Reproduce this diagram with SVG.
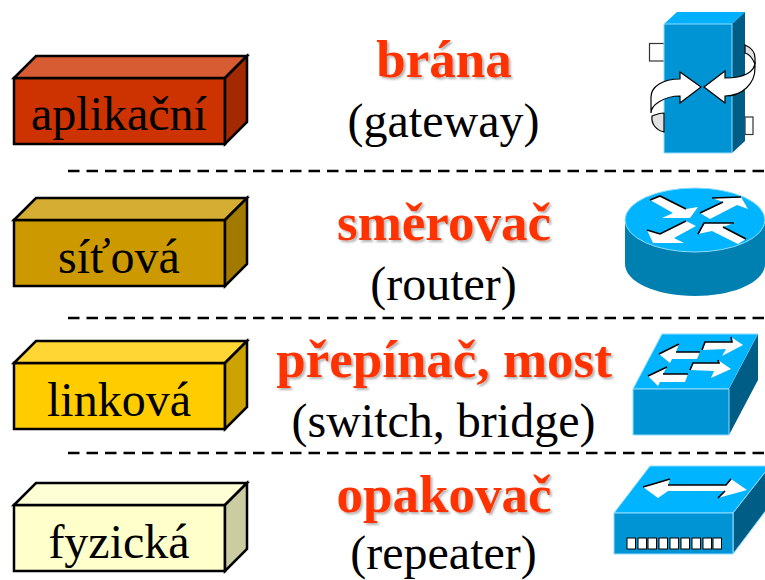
<svg xmlns="http://www.w3.org/2000/svg" width="765" height="580" viewBox="0 0 765 580">
<style>
text{font-family:"Liberation Serif","Times New Roman",serif;text-anchor:middle;fill:#000}
.l{font-size:48px}
.h{font-size:53px;font-weight:bold;fill:#ff3300;filter:url(#sh)}
.e{stroke:#000;stroke-width:2.5;stroke-linejoin:miter}
.d{stroke:#000;stroke-width:2.5;stroke-dasharray:11.500 7;fill:none}
.w{fill:#fff}
.ws{fill:none;stroke:#000;stroke-width:1.6}
.o{stroke:#000;stroke-width:1.200}
</style>
<defs>
<filter id="sh" x="-5%" y="-10%" width="110%" height="125%"><feDropShadow dx="2" dy="2" stdDeviation="1" flood-color="#000" flood-opacity=".3"/></filter>
</defs>
<rect width="765" height="580" fill="#fff"/>
<g id="connectors">
<path class="d" d="M68 171H765M68 318H765M68 453H765"/>
</g>
<g id="layer-aplikacni">
<path class="e" fill="#cc3300" d="M14 78H225V144H14Z"/>
<path class="e" fill="#d75c33" d="M14 78L36 56H247L225 78Z"/>
<path class="e" fill="#a32900" d="M225 78L247 56V122L225 144Z"/>
<text class="l" x="119" y="130">aplikační</text>
</g>
<g id="layer-sitova">
<path class="e" fill="#cc9900" d="M14 220H225V286H14Z"/>
<path class="e" fill="#d6ad33" d="M14 220L36 198H247L225 220Z"/>
<path class="e" fill="#a37a00" d="M225 220L247 198V264L225 286Z"/>
<text class="l" x="119" y="273">síťová</text>
</g>
<g id="layer-linkova">
<path class="e" fill="#ffcc00" d="M14 363H225V429H14Z"/>
<path class="e" fill="#ffd633" d="M14 363L36 341H247L225 363Z"/>
<path class="e" fill="#cca300" d="M225 363L247 341V407L225 429Z"/>
<text class="l" x="119" y="416">linková</text>
</g>
<g id="layer-fyzicka">
<path class="e" fill="#ffffcc" d="M14 505H225V571H14Z"/>
<path class="e" fill="#ffffd6" d="M14 505L36 483H247L225 505Z"/>
<path class="e" fill="#ccccA3" d="M225 505L247 483V549L225 571Z"/>
<text class="l" x="119" y="558">fyzická</text>
</g>
<g id="label-brana">
<text class="h" x="444" y="77">brána</text>
<text class="l" x="443.500" y="137">(gateway)</text>
</g>
<g id="label-smerovac">
<text class="h" x="444" y="240">směrovač</text>
<text class="l" x="443.500" y="300">(router)</text>
</g>
<g id="label-prepinac">
<text class="h" x="444" y="377">přepínač, most</text>
<text class="l" x="443.500" y="437">(switch, bridge)</text>
</g>
<g id="label-opakovac">
<text class="h" x="444" y="512">opakovač</text>
<text class="l" x="443.500" y="569">(repeater)</text>
</g>
<g id="icon-gateway">
<rect x="649.500" y="43.500" width="15" height="17.500" fill="#fff" stroke="#333" stroke-width="1.200"/>
<rect x="745" y="117" width="8" height="17.500" fill="#fff" stroke="#333" stroke-width="1.200"/>
<path fill="#00b0ff" d="M664 24L677 12H745L732 24Z"/>
<path fill="#005d85" d="M732 24L745 12V141L732 153Z"/>
<path fill="#0094d4" stroke="#8fdcff" d="M664 24H732V153H664Z"/>
<path fill="#e2e2e2" class="o" d="M664 113C659 113 655 115 652 116C651 124 656 130 664 132Z"/>
<path fill="#e2e2e2" class="o" d="M745 45C752 48 755 53 755 58V64C752 57 749 54 745 53Z"/>
<path class="w o" d="M701 87L680 72V79C662 79 651 87 651 97V113C651 105 664 96 680 96V103Z"/>
<path class="w o" d="M704 87L725 71V78C744 78 755 72 755 62V68C755 84 742 96 725 96V103Z"/>
</g>
<g id="icon-router">
<path fill="#0080b0" d="M625 220V264C625 282 656 296 695 296S765 282 765 264V220Z"/>
<ellipse cx="695" cy="220" rx="70" ry="32" fill="#00b4ff" stroke="#8fdcff" stroke-width="1"/>
<path class="w" d="M650 200L660 196L686 209L698 207L690 218H662L673 213Z"/>
<path class="ws" d="M650 200L660 196L686 209"/>
<path class="w" d="M700 213L723 202L712 198L741 197L748 209L737 205L710 219Z"/>
<path class="ws" d="M700 213L723 202M712 198L741 197"/>
<path class="w" d="M647 230L660 234L686 221L696 226L674 238L684 243H653Z"/>
<path class="ws" d="M647 230L660 234L686 221"/>
<path class="w" d="M698 234L704 223H734L723 227L746 239L738 244L712 231Z"/>
<path class="ws" d="M698 234L704 223H734M723 227L746 239"/>
</g>
<g id="icon-switch">
<path fill="#00b4ff" stroke="#8fdcff" d="M633 389L662 334H758L729 389Z"/>
<path fill="#005d85" d="M729 389L758 334V380L729 435Z"/>
<path fill="#0094d4" stroke="#8fdcff" d="M633 389H729V435H633Z"/>
<path class="w" d="M702 350L705 342H732L731 337L743 345L722 356L726 349Z"/>
<path class="ws" d="M702 350L705 342H732L731 337"/>
<path class="w" d="M659 354L679 344L676 352H700L697 359H672L670 363Z"/>
<path class="ws" d="M659 354L679 344M676 352H700"/>
<path class="w" d="M690 370L693 363H719L718 360L731 369L711 378L714 371Z"/>
<path class="ws" d="M690 370L693 363H719L718 360"/>
<path class="w" d="M648 376L667 367L663 374H688L685 382H660L658 386Z"/>
<path class="ws" d="M648 376L667 367M663 374H688"/>
</g>
<g id="icon-repeater">
<path fill="#00b4ff" stroke="#8fdcff" d="M614 513L650 466H770L733 513Z"/>
<path fill="#005d85" stroke="#8fdcff" d="M733 513L770 466V505L733 554Z"/>
<path fill="#0094d4" stroke="#8fdcff" d="M614 513H733V554H614Z"/>
<path class="w" d="M643 487L670 479L668 485H726L731 479L747 490L718 498L725 491H668L658 498Z"/>
<path class="ws" d="M643 487L670 479M668 485H726L731 479M725 491L718 498"/>
<g fill="#fff" stroke="#000" stroke-width="1">
<rect x="627" y="538" width="8.500" height="11"/><rect x="638" y="538" width="8.500" height="11"/><rect x="648" y="538" width="8.500" height="11"/><rect x="659" y="538" width="8.500" height="11"/><rect x="670" y="538" width="8.500" height="11"/><rect x="681" y="538" width="8.500" height="11"/><rect x="692" y="538" width="8.500" height="11"/><rect x="703" y="538" width="8.500" height="11"/><rect x="713" y="538" width="8.500" height="11"/>
</g>
</g>
</svg>
